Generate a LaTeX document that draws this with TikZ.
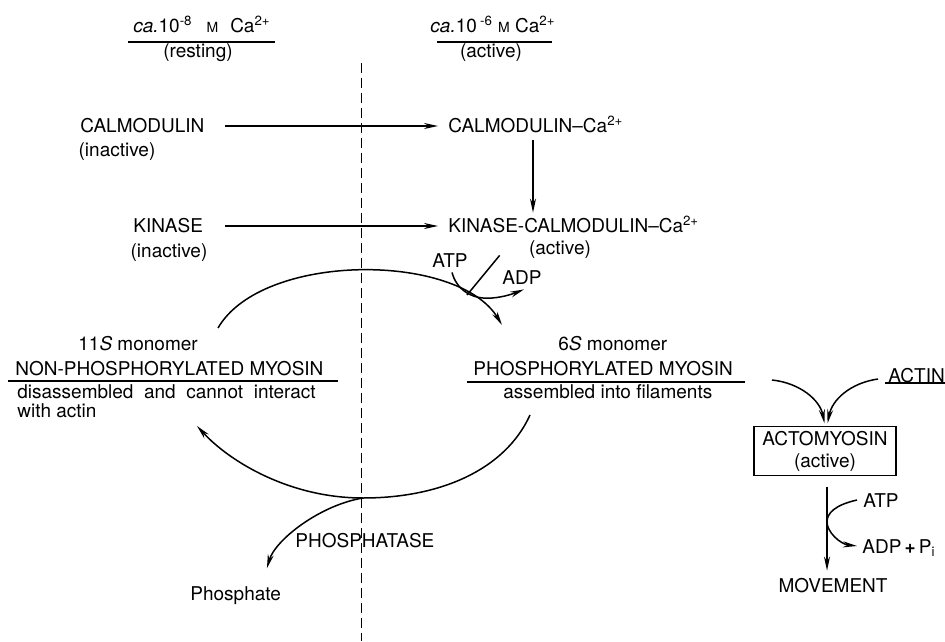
\documentclass[tikz,border=0pt]{standalone}
\usepackage{fontspec}
\setmainfont{TeX Gyre Heros}
\usetikzlibrary{arrows.meta}

\begin{document}
\begin{tikzpicture}[x=0.5pt, y=-0.5pt,
    lbl/.style={inner sep=0pt, text height=7pt, text depth=0pt, anchor=base west, font=\fontsize{9.5}{11}\selectfont},
    lblc/.style={lbl, anchor=base},
    rxn/.style={-{Stealth[length=7pt, width=3pt]}, line width=0.75pt},
    curve/.style={line width=0.75pt},
    ul/.style={line width=0.6pt}]
    \useasboundingbox (0,0) rectangle (945,641);

    %%%%%%%%%%%%%%%%%%%%%%%%%%%%%%%%%%%%%%%%%%%%%%%%%%%%%%
    \node(restca) at (202,33) [lblc] {\textit{ca.}10\textsuperscript{-8}\hspace{7pt}{\fontsize{7}{8}\selectfont M}\hspace{6pt}Ca\textsuperscript{2+}};
    \node(rest) at (198,58) [lblc] {(resting)};
    \draw[ul] (128,42) -- (275,42);

    \node(actca) at (493,33) [lblc] {\textit{ca.}10\,\textsuperscript{-6}\ {\fontsize{7}{8}\selectfont M}\ Ca\textsuperscript{2+}};
    \node(act) at (491,58) [lblc] {(active)};
    \draw[ul] (437,42) -- (552,42);

    \draw[line width=0.5pt, dash pattern=on 5pt off 2.5pt] (361,63) -- (361,641);

    %%%%%%%%%%%%%%%%%%%%%%%%%%%%%%%%%%%%%%%%%%%%%%%%%%%%%%
    \node(calm) at (80,133) [lbl] {CALMODULIN};
    \node(calmina) at (117,157) [lblc] {(inactive)};
    \node(calmca) at (448,133) [lbl] {CALMODULIN\textendash Ca\textsuperscript{2+}};
    \draw[rxn, shorten <=10pt, shorten >=5pt] (calm.east) -- (calm.east -| calmca.west);

    \node(kin) at (133,233) [lbl] {KINASE};
    \node(kinina) at (169,257) [lblc] {(inactive)};
    \node(kcc) at (448,233) [lbl] {KINASE-CALMODULIN\textendash Ca\textsuperscript{2+}};
    \node(kccact) at (560,255) [lblc] {(active)};
    \draw[rxn, shorten <=11pt, shorten >=5pt] (kin.east) -- (kin.east -| kcc.west);

    \draw[rxn, shorten <=3.5pt, shorten >=3pt] ([xshift=42.5pt]calmca.south west) -- ([xshift=42.5pt]kcc.north west);

    %%%%%%%%%%%%%%%%%%%%%%%%%%%%%%%%%%%%%%%%%%%%%%%%%%%%%%
    \node(mono11) at (78,350) [lbl] {11\textit{S} monomer};
    \node(npmyo) at (15,375) [lbl] {NON-PHOSPHORYLATED MYOSIN};
    \draw[ul] (8,381) -- (338,381);
    \node(npa) at (17,398) [lbl] {disassembled\ \ and\ \ cannot\ \ interact};
    \node(npb) at (17,417) [lbl] {with actin};

    \node(mono6) at (558,350) [lbl] {6\textit{S} monomer};
    \node(pmyo) at (473,375) [lbl] {PHOSPHORYLATED MYOSIN};
    \draw[ul] (467,382) -- (745,382);
    \node(pa) at (503,398) [lbl] {assembled into filaments};

    %%%%%%%%%%%%%%%%%%%%%%%%%%%%%%%%%%%%%%%%%%%%%%%%%%%%%%
    \coordinate(topL) at (218,328);
    \coordinate(topR) at (502,325);
    \coordinate(phos) at (467,295);
    \draw[rxn] (topL) .. controls (262,252) and (458,252) .. (topR);

    \node(atp) at (432,268) [lbl] {ATP};
    \node(adp) at (502,285) [lbl] {ADP};
    \draw[curve] ([xshift=-14.5pt]kccact.south west) -- (phos);
    \draw[rxn] ([xshift=10pt, yshift=-2pt]atp.south west) .. controls (456,288) and (470,300) .. (492,298)
        .. controls (505,297) and (515,293) .. ([xshift=11pt, yshift=-2pt]adp.south west);

    %%%%%%%%%%%%%%%%%%%%%%%%%%%%%%%%%%%%%%%%%%%%%%%%%%%%%%
    \coordinate(botR) at (530,415);
    \coordinate(botM) at (363,498);
    \coordinate(botL) at (197,426);
    \draw[rxn] (botR) .. controls (505,470) and (440,498) .. (botM)
        .. controls (290,498) and (230,462) .. (botL);

    \node(ptase) at (295,547) [lbl] {PHOSPHATASE};
    \node(pi) at (190,600) [lbl] {Phosphate};
    \draw[rxn, shorten >=9pt] (botM) .. controls (320,505) and (275,540) .. ([xshift=36pt]pi.north west);

    %%%%%%%%%%%%%%%%%%%%%%%%%%%%%%%%%%%%%%%%%%%%%%%%%%%%%%
    \node(actin) at (888,382) [lbl] {ACTIN};
    \draw[ul] (885,383) -- (945,383);

    \node(acto) at (825,451) [draw, line width=0.6pt, inner sep=2pt, minimum width=71pt, minimum height=23pt, align=center, font=\fontsize{9.5}{11}\selectfont] {ACTOMYOSIN\\(active)};

    \draw[rxn, shorten >=1.5pt] (772,380) .. controls (800,383) and (820,400) .. (acto.north);
    \draw[rxn, shorten >=1.5pt] ([xshift=-5pt, yshift=-2pt]actin.west) .. controls (850,383) and (832,400) .. ([xshift=1pt]acto.north);

    \node(mov) at (833,592) [lblc] {MOVEMENT};
    \node(atp2) at (863,507) [lbl] {ATP};
    \node(adp2) at (862,553) [lbl] {ADP\,{\bfseries +}\,P\textsubscript{i}};
    \draw[rxn, shorten <=5.5pt, shorten >=3.5pt] ([xshift=1pt]acto.south) -- ([xshift=-3pt]mov.north);
    \draw[rxn] ([xshift=-3pt]atp2.west) .. controls (835,505) and (827,513) .. (827,522)
        .. controls (827,532) and (840,544) .. ([xshift=-2.5pt]adp2.west);
\end{tikzpicture}
\end{document}
